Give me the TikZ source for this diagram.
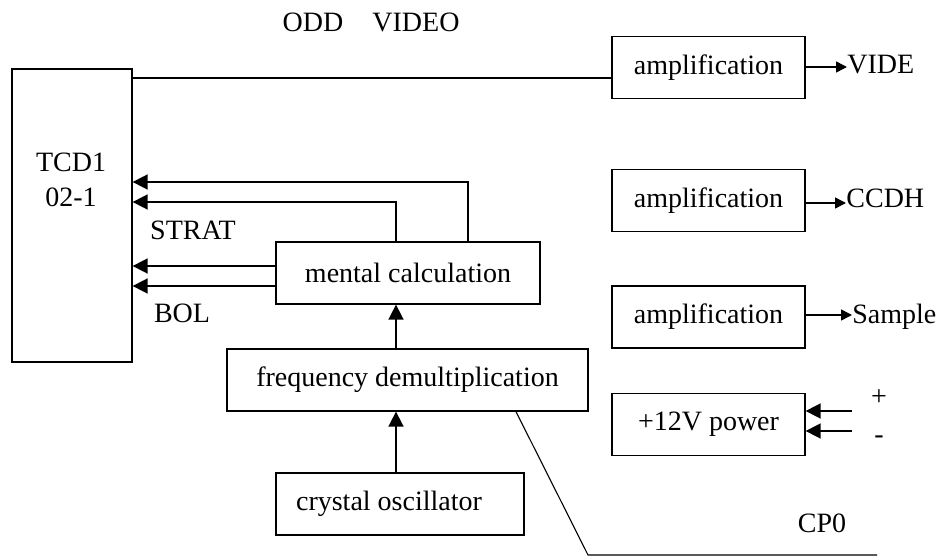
\documentclass[tikz,border=0pt]{standalone}
\usepackage{fontspec}
\setmainfont{Liberation Serif}
\usetikzlibrary{arrows.meta}
\begin{document}
\begin{tikzpicture}[x=0.5pt,y=-0.5pt,
  font=\fontsize{14}{17.5}\selectfont,
  blk/.style={draw, line width=0.65pt, inner sep=0pt, minimum height=31pt},
  lbl/.style={inner sep=0pt},
  big/.style={line width=0.85pt, -{Triangle[length=7.5pt,width=7.5pt]}},
  small/.style={line width=0.75pt, -{Triangle[length=5.5pt,width=5.5pt]}},
  wire/.style={line width=0.65pt}]
\useasboundingbox (0,0) rectangle (938,556);

% boxes
\node[blk, minimum width=60pt, minimum height=146.5pt] (tcd) at (72,215.5) {};
\node[lbl, align=center] (tcdtxt) at (71,180) {TCD1\\02-1};
\node[blk, minimum width=96.5pt] (amp1) at (708.5,67.5) {amplification};
\node[blk, minimum width=96.5pt] (amp2) at (708.5,200.5) {amplification};
\node[blk, minimum width=96.5pt] (amp3) at (708.5,317) {amplification};
\node[blk, minimum width=96.5pt] (pow) at (708.5,424.5) {+12V power};
\node[blk, minimum width=132pt] (ment) at (408,273) {mental calculation};
\node[blk, minimum width=180.5pt] (freq) at (407.5,380) {frequency demultiplication};
\node[blk, minimum width=124pt] (xtal) at (400,504) {\hspace*{-11pt}crystal oscillator};

% labels
\node[lbl] (odd) at (313,22) {ODD};
\node[lbl] (video) at (416,22) {VIDEO};
\node[lbl] (strat) at (193,230) {STRAT};
\node[lbl] (bol) at (182,313) {BOL};
\node[lbl, anchor=base west] (vide) at (847,74) {VIDE};
\node[lbl, anchor=base west] (ccdh) at (846,207) {CCDH};
\node[lbl, anchor=base west] (sample) at (852,323) {Sample};
\node[lbl] (plus) at (879,398) {+};
\node[lbl] (minus) at (879,440) {-};
\node[lbl] (cp0) at (822,523) {CP0};

% free ends
\coordinate (pin1) at (852,411);
\coordinate (pin2) at (852,431);
\coordinate (bend) at (588,555);
\coordinate (cpend) at (877,555);

% connectors
\draw[wire] (tcd.east |- 0,78) -- (amp1.west |- 0,78);
\draw[small] (amp1.east |- 0,67) -- (vide.west |- 0,67);
\draw[small] (amp2.east |- 0,203) -- (ccdh.west |- 0,203);
\draw[small] (amp3.east |- 0,315) -- (sample.west |- 0,315);
\draw[big] (pin1) -- (pow.east |- pin1);
\draw[big] (pin2) -- (pow.east |- pin2);

\draw[big] (ment.north -| 468,0) |- (tcd.east |- 0,182);
\draw[big] (ment.north -| 396,0) |- (tcd.east |- 0,202);
\draw[big] (ment.west |- 0,266) -- (tcd.east |- 0,266);
\draw[big] (ment.west |- 0,286) -- (tcd.east |- 0,286);

\draw[big] (freq.north -| 396,0) -- (ment.south -| 396,0);
\draw[big] (xtal.north -| 396,0) -- (freq.south -| 396,0);

\draw[line width=0.55pt] (freq.south -| 516,0) -- (bend) -- (cpend);
\end{tikzpicture}
\end{document}
